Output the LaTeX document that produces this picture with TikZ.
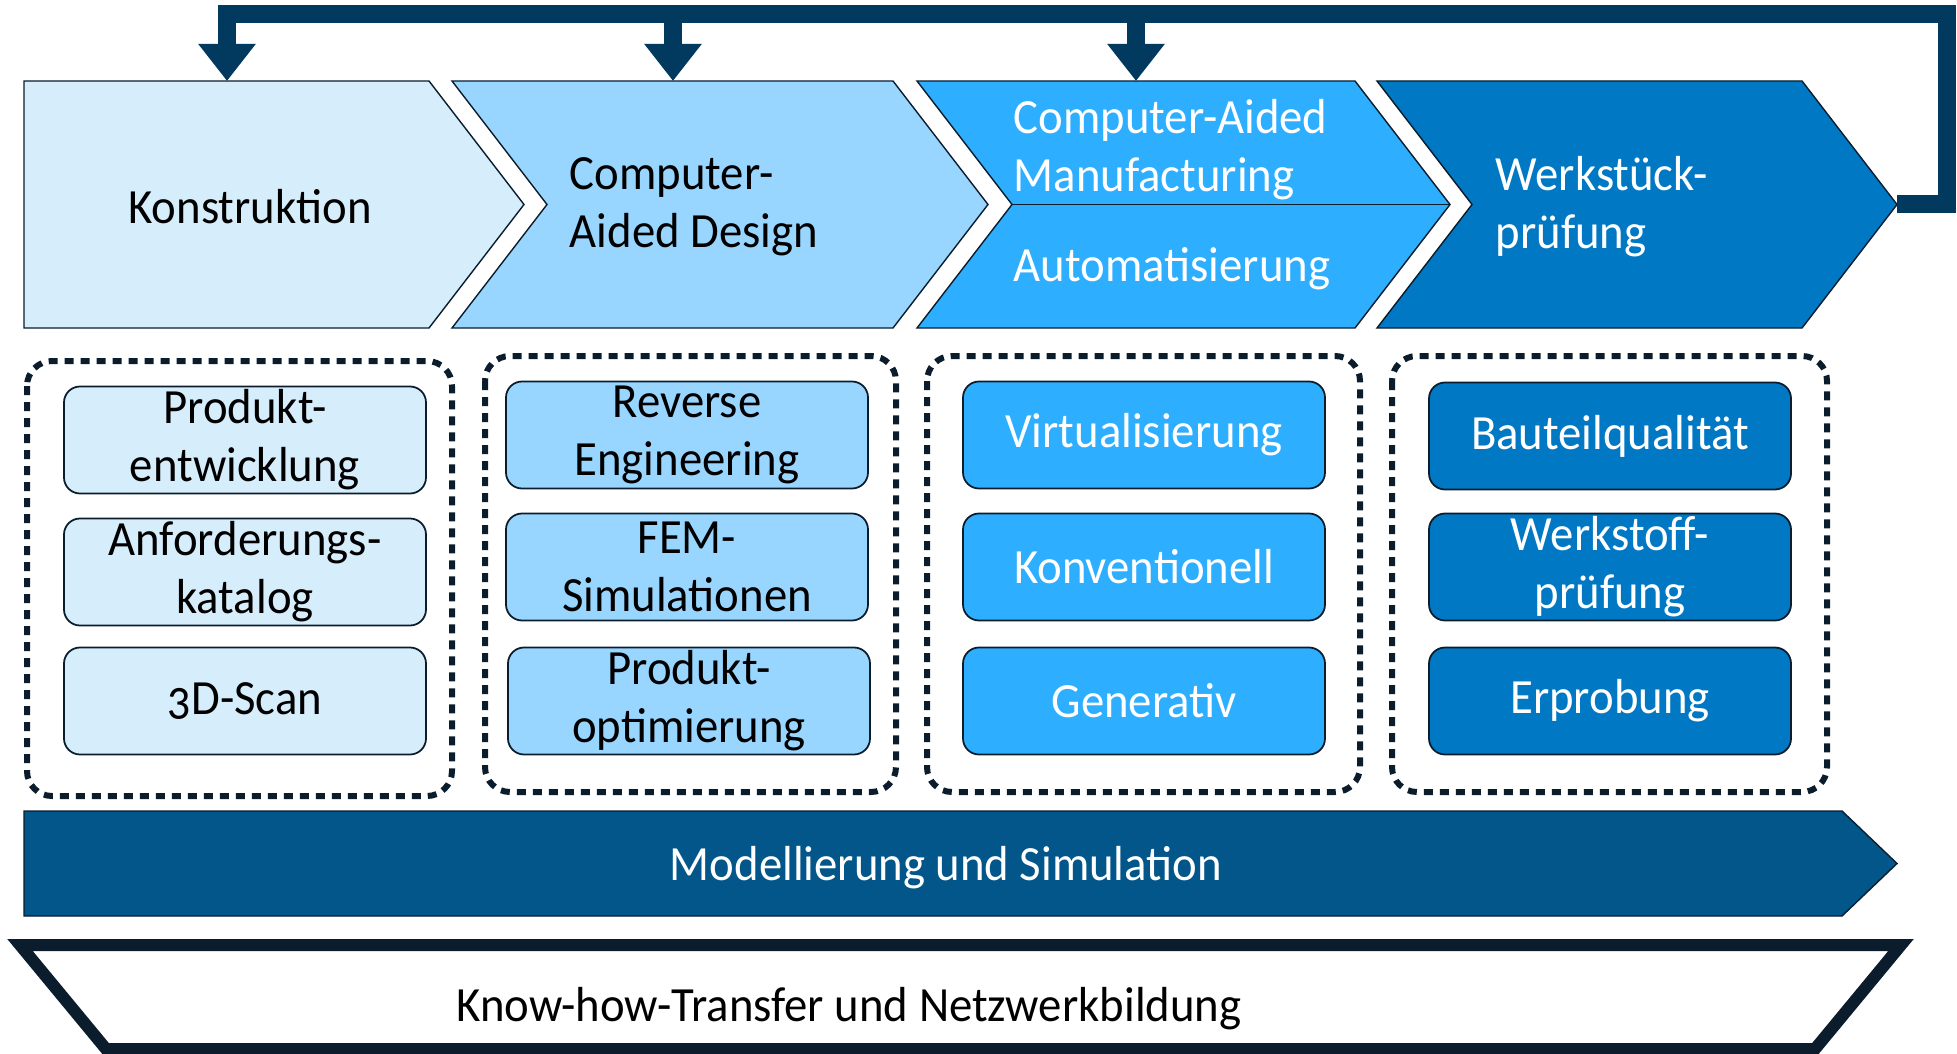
\documentclass[tikz,border=0pt]{standalone}
\usepackage{fontspec}
\setmainfont{Carlito}[Numbers=OldStyle,FakeStretch=0.95]
\usetikzlibrary{arrows.meta,calc}
\definecolor{tonA}{HTML}{D6EDFC}
\definecolor{tonB}{HTML}{99D6FF}
\definecolor{tonC}{HTML}{2EAEFF}
\definecolor{tonD}{HTML}{0078C4}
\definecolor{modsim}{HTML}{02568A}
\definecolor{navy}{HTML}{023A5F}
\definecolor{ink}{HTML}{0B1D2C}
\tikzset{
  txt/.style={font=\fontsize{14}{16.5}\selectfont,inner sep=0,align=left},
  chev/.style={draw=ink,line width=.4pt},
  grp/.style={draw=ink,line width=.6mm,dash pattern=on .9mm off .7mm,rounded corners=2.5mm},
  item/.style={txt,draw=ink,line width=.5pt,rounded corners=1.6mm,minimum width=3.62cm,minimum height=1.07cm,align=center},
  fb/.style={draw=navy,line width=1.8mm,-{Triangle[width=5.5mm,length=3.7mm]}},
}
\begin{document}
\begin{tikzpicture}[x=1cm,y=-1cm]
\useasboundingbox(0,0)rectangle(19.57,10.54);
\draw[chev,fill=tonA](.24,.81)--(4.29,.81)--(5.24,2.045)--(4.29,3.28)--(.24,3.28)--cycle;
\draw[chev,fill=tonB](4.52,.81)--(8.93,.81)--(9.88,2.045)--(8.93,3.28)--(4.52,3.28)--(5.47,2.045)--cycle;
\draw[chev,fill=tonC](9.17,.81)--(13.55,.81)--(14.5,2.045)--(13.55,3.28)--(9.17,3.28)--(10.12,2.045)--cycle;
\draw[chev](10.12,2.045)--(14.5,2.045);
\draw[chev,fill=tonD](13.77,.81)--(18.02,.81)--(18.97,2.045)--(18.02,3.28)--(13.77,3.28)--(14.72,2.045)--cycle;
\node[txt](kon)at(2.5,2.07){Konstruktion};
\node[txt,anchor=west](cad)at(5.69,2.07){Computer-\\Aided Design};
\node[txt,anchor=west,white](cam)at(10.13,1.5){Computer-Aided\\Manufacturing};
\node[txt,anchor=west,white](aut)at(10.13,2.69){Automatisierung};
\node[txt,anchor=west,white](wsp)at(14.95,2.07){Werkstück-\\prüfung};
\coordinate(k1)at(2.27,.81);\coordinate(k2)at(6.73,.81);\coordinate(k3)at(11.36,.81);\coordinate(k4)at(18.97,2.045);
\coordinate(ret)at(19.47,.14);
\draw[fb](k4)-|(ret)-|(k1);
\draw[fb](k2|-ret)--(k2);\draw[fb](k3|-ret)--(k3);
\draw[grp](.27,3.61)rectangle(4.52,7.96);
\draw[grp](4.85,3.56)rectangle(8.96,7.92);
\draw[grp](9.27,3.56)rectangle(13.6,7.92);
\draw[grp](13.92,3.56)rectangle(18.27,7.92);
\node[item,fill=tonA](pe)at(2.45,4.4){Produkt-\\entwicklung};
\node[item,fill=tonA](ak)at(2.45,5.72){Anforderungs-\\katalog};
\node[item,fill=tonA](scan)at(2.45,7.01){3D-Scan};
\node[item,fill=tonB](re)at(6.87,4.35){Reverse\\Engineering};
\node[item,fill=tonB](fem)at(6.87,5.67){FEM-\\Simulationen};
\node[item,fill=tonB](po)at(6.89,7.01){Produkt-\\optimierung};
\node[item,fill=tonC,text=white](virt)at(11.44,4.35){Virtualisierung};
\node[item,fill=tonC,text=white](konv)at(11.44,5.67){Konventionell};
\node[item,fill=tonC,text=white](gen)at(11.44,7.01){Generativ};
\node[item,fill=tonD,text=white](bq)at(16.1,4.36){Bauteilqualität};
\node[item,fill=tonD,text=white](wfp)at(16.1,5.67){Werkstoff-\\prüfung};
\node[item,fill=tonD,text=white](erp)at(16.1,7.01){Erprobung};
\draw[chev,fill=modsim](.24,8.11)--(18.42,8.11)--(18.97,8.635)--(18.42,9.16)--(.24,9.16)--cycle;
\node[txt,white](ms)at(9.46,8.68){Modellierung und Simulation};
\draw[draw=ink,line width=1.2mm](.2,9.45)--(19.01,9.45)--(18.15,10.49)--(1.06,10.49)--cycle;
\node[txt](kh)at(8.49,10.09){Know-how-Transfer und Netzwerkbildung};
\end{tikzpicture}
\end{document}
